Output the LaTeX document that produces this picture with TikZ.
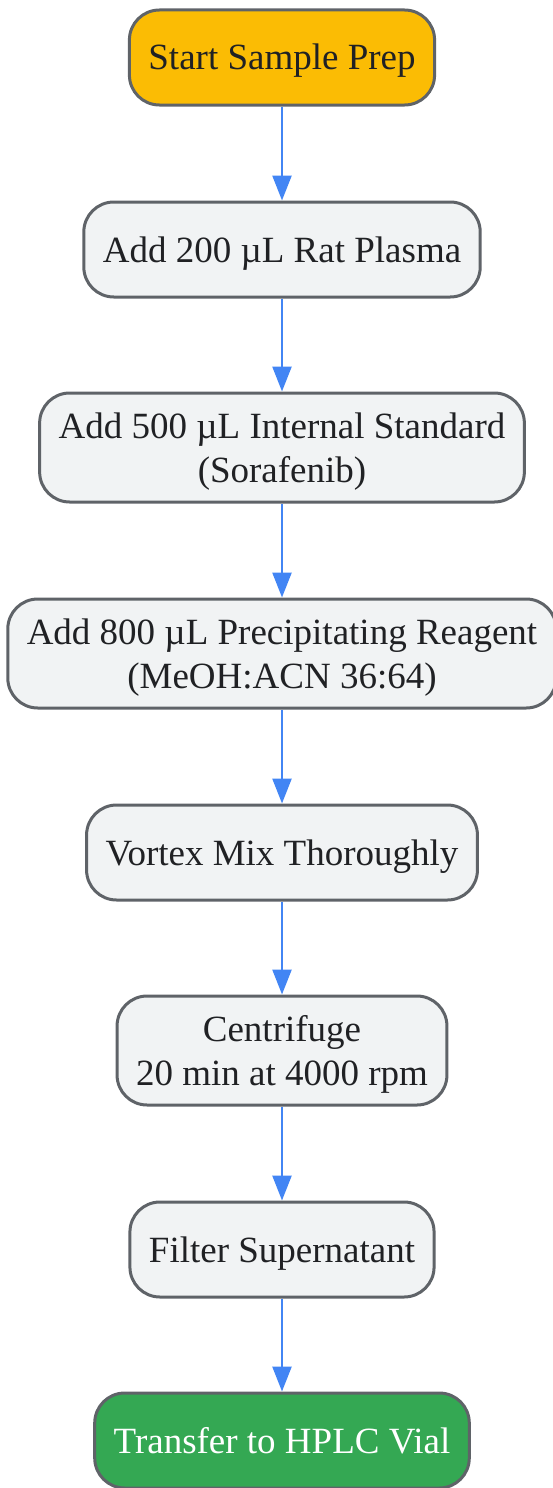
\documentclass[tikz,border=0pt]{standalone}
\usepackage{fontspec}
\setmainfont{Liberation Serif}
\usetikzlibrary{arrows.meta}
\definecolor{stepfill}{HTML}{F1F3F4}
\definecolor{stepline}{HTML}{5F6368}
\definecolor{startfill}{HTML}{FBBC04}
\definecolor{endfill}{HTML}{34A853}
\definecolor{flowline}{HTML}{4285F4}
\definecolor{steptext}{HTML}{202124}
\begin{document}
\begin{tikzpicture}[x=1pt,y=-1pt,
	stepbox/.style={draw=stepline, line width=3pt, fill=stepfill, rounded corners=30pt,
		minimum height=95pt, inner xsep=19pt, inner ysep=0pt, align=center, text=steptext,
		text height=33pt, text depth=8pt, font=\fontsize{37}{44}\selectfont},
	twoline/.style={minimum height=109pt, text height=77pt},
	flow/.style={draw=flowline, line width=2.5pt, -{Triangle[length=25pt,width=19pt]}}]
				\useasboundingbox (0,0) rectangle (553,1488);
				\node[stepbox, fill=startfill] (start) at (282,57.5) {Start Sample Prep};
				\node[stepbox] (plasma) at (282,249.5) {Add 200 µL Rat Plasma};
				\node[stepbox, twoline] (istd) at (282,447.5) {Add 500 µL Internal Standard\\(Sorafenib)};
				\node[stepbox, twoline] (precip) at (282,653.5) {Add 800 µL Precipitating Reagent\\(MeOH:ACN 36:64)};
				\node[stepbox] (vortex) at (282,852.5) {Vortex Mix Thoroughly};
				\node[stepbox, twoline] (centri) at (282,1050.5) {Centrifuge\\20 min at 4000 rpm};
				\node[stepbox] (filter) at (282,1249.5) {Filter Supernatant};
				\node[stepbox, fill=endfill, text=white] (vial) at (282,1440.5) {Transfer to HPLC Vial};
				\draw[flow] (start) -- (plasma);
				\draw[flow] (plasma) -- (istd);
				\draw[flow] (istd) -- (precip);
				\draw[flow] (precip) -- (vortex);
				\draw[flow] (vortex) -- (centri);
				\draw[flow] (centri) -- (filter);
				\draw[flow] (filter) -- (vial);
\end{tikzpicture}
\end{document}
